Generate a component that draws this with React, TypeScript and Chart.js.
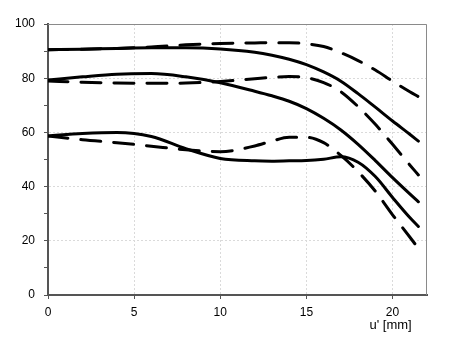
import React, { useEffect, useRef } from 'react';
import { Chart, registerables } from 'chart.js';

Chart.register(...registerables);

// ---- data ----
const uValues = [0, 2, 4, 6, 8, 10, 12, 13, 14, 15, 16, 17, 18, 19, 20, 21, 21.5];

const topSolid = [90.5, 90.7, 91, 91.2, 91.2, 90.8, 89.6, 88.5, 87, 85, 82.3, 78.9, 74.3, 69.3, 64.2, 59.3, 56.8];
const topDashed = [90.5, 90.7, 91, 91.5, 92.3, 92.8, 93, 93.1, 93.1, 92.7, 91.7, 89.4, 86.5, 83, 78.9, 75, 73.2];
const midSolid = [79.3, 80.5, 81.5, 81.7, 80.5, 78.3, 75.2, 73.5, 71.5, 68.8, 65.2, 60.9, 55.6, 49.6, 43.3, 37.3, 34.4];
const midDashed = [79, 78.5, 78.2, 78.1, 78.2, 78.8, 79.8, 80.3, 80.6, 80.2, 78.4, 75, 69.5, 63, 55.6, 48, 44.3];
const lowSolid = [58.7, 59.6, 60, 58.5, 54, 50.4, 49.5, 49.4, 49.5, 49.6, 50.1, 51, 49, 43.7, 36, 28.6, 25.3];
const lowDashed = [58.7, 57.3, 56.2, 54.9, 53.6, 52.9, 55, 56.8, 58.2, 58.2, 56.2, 51.5, 45.5, 38.3, 29.6, 21.4, 17.2];

const xTickValues = [0, 5, 10, 15, 20];
const yTickValues = [0, 10, 20, 30, 40, 50, 60, 70, 80, 90, 100];
const yLabelledTicks = [0, 20, 40, 60, 80, 100];
const xTitle = "u' [mm]";

const FONT = 'Arial, "Liberation Sans", sans-serif';

const toPoints = (ys: number[]) => uValues.map((x, i) => ({ x, y: ys[i] }));

export default function App() {
  const canvasRef = useRef<HTMLCanvasElement | null>(null);

  useEffect(() => {
    document.body.style.margin = '0';
    const canvas = canvasRef.current;
    if (!canvas) return;

    const frame = {
      id: 'frame',
      beforeDatasetsDraw(chart: any) {
        const { ctx, chartArea } = chart;
        ctx.save();
        ctx.strokeStyle = '#8a8a8a';
        ctx.lineWidth = 1;
        ctx.beginPath();
        ctx.moveTo(chartArea.left, chartArea.top + 0.5);
        ctx.lineTo(chartArea.right - 0.5, chartArea.top + 0.5);
        ctx.lineTo(chartArea.right - 0.5, chartArea.bottom);
        ctx.stroke();
        ctx.restore();
      },
      afterDraw(chart: any) {
        const { ctx } = chart;
        const xs = chart.scales.x;
        ctx.save();
        ctx.fillStyle = '#000';
        ctx.font = '13px ' + FONT;
        ctx.textAlign = 'center';
        ctx.textBaseline = 'middle';
        ctx.fillText(xTitle, xs.getPixelForValue(20) - 2, 325);
        ctx.restore();
      },
    };

    const lineDs = (data: number[], dashed: boolean) => ({
      data: toPoints(data),
      borderColor: '#000',
      borderWidth: 3,
      borderDash: dashed ? [20, 13] : [],
      borderCapStyle: 'round',
      pointRadius: 0,
      cubicInterpolationMode: 'monotone',
      fill: false,
    });

    const chart = new Chart(canvas, {
      type: 'line',
      data: {
        datasets: [
          lineDs(topSolid, false),
          lineDs(topDashed, true),
          lineDs(midSolid, false),
          lineDs(midDashed, true),
          lineDs(lowSolid, false),
          lineDs(lowDashed, true),
        ],
      },
      options: {
        responsive: false,
        animation: false,
        layout: { padding: { top: 24, right: 22, left: 0, bottom: 0 } },
        plugins: { legend: { display: false }, tooltip: { enabled: false } },
        scales: {
          x: {
            type: 'linear',
            min: 0,
            max: 22,
            afterBuildTicks: (s: any) => {
              s.ticks = xTickValues.map((v) => ({ value: v }));
            },
            afterFit: (s: any) => {
              s.height = 53;
            },
            ticks: {
              color: '#000',
              font: { family: FONT, size: 12 },
              padding: 6,
              maxRotation: 0,
              autoSkip: false,
            },
            grid: {
              color: '#dadada',
              lineWidth: 1,
              tickColor: '#555',
              tickLength: 4,
            },
            border: { color: '#555', width: 2, dash: [2, 2] },
          },
          y: {
            type: 'linear',
            min: 0,
            max: 100,
            afterBuildTicks: (s: any) => {
              s.ticks = yTickValues.map((v) => ({ value: v }));
            },
            afterFit: (s: any) => {
              s.width = 48;
            },
            ticks: {
              color: '#000',
              font: { family: FONT, size: 12 },
              padding: 9,
              autoSkip: false,
              callback: (v: any) => (yLabelledTicks.includes(Number(v)) ? String(v) : ''),
            },
            grid: {
              color: (c: any) =>
                c.tick && yLabelledTicks.includes(c.tick.value) ? '#dadada' : 'rgba(0,0,0,0)',
              lineWidth: 1,
              tickColor: '#555',
              tickLength: 4,
            },
            border: { color: '#555', width: 2, dash: [2, 2] },
          },
        },
      },
      plugins: [frame],
    } as any);

    return () => chart.destroy();
  }, []);

  return (
    <div style={{ width: 449, height: 348 }}>
      <canvas ref={canvasRef} width={449} height={348} style={{ display: 'block' }} />
    </div>
  );
}
